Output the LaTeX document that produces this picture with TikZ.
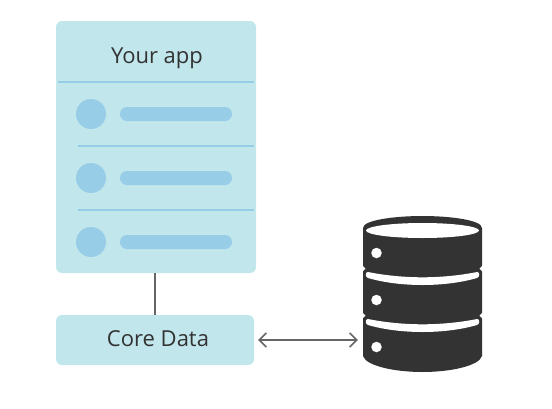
\documentclass[tikz,border=0pt]{standalone}
\usepackage{fontspec}
\setmainfont{Open Sans}
\usetikzlibrary{arrows.meta}
\definecolor{panel}{HTML}{C1E6EC}
\definecolor{rowblue}{HTML}{98CDE8}
\definecolor{disk}{HTML}{333333}
\definecolor{wire}{HTML}{666666}
\tikzset{
	panelbox/.style={fill=panel,rounded corners=6pt,inner sep=0pt},
	rowline/.style={draw=rowblue,line width=1.5pt},
	rowdot/.style={circle,fill=rowblue,inner sep=0pt,minimum size=30pt},
	rowbar/.style={fill=rowblue,rounded corners=7pt,inner sep=0pt,minimum width=112pt,minimum height=14pt},
	label/.style={text=disk,anchor=base,font=\fontsize{22}{26}\selectfont},
	wireline/.style={draw=wire,line width=1.5pt},
	diskpart/.style={fill=disk,draw=none},
}
\begin{document}
\begin{tikzpicture}[x=1pt,y=-1pt]
	\useasboundingbox (0,0) rectangle (552,408);
	% the app panel and its rows
	\node[panelbox,minimum width=200pt,minimum height=252pt] (app) at (156,147) {};
	\node[label] (title) at (157,63) {Your app};
	\draw[rowline] (58,82)--(254,82);
	\draw[rowline] (78,146)--(254,146);
	\draw[rowline] (78,210)--(254,210);
	\foreach \i/\y in {1/114,2/178,3/242}{
		\node[rowdot] (dot\i) at (91,\y) {};
		\node[rowbar] (bar\i) at (176,\y) {};
	}
	% core data
	\node[panelbox,minimum width=198pt,minimum height=50pt] (core) at (155,340) {};
	\node[label] (corelabel) at (158,346) {Core Data};
	\draw[wireline] (app.south -| 155,0)--(core.north -| 155,0);
	% the database
	\node[inner sep=0pt,minimum width=119pt,minimum height=156pt] (database) at (422.5,294) {};
	\path[diskpart] (363,228) .. controls (363,220) and (395,216) .. (422.5,216)
		.. controls (450,216) and (482,220) .. (482,228)
		-- (482,356) .. controls (479,366) and (450,372) .. (422.5,372)
		.. controls (395,372) and (366,366) .. (363,356) -- cycle;
	\path[fill=white] (422.5,230.5) ellipse (56.5 and 7.5);
	\foreach \o in {0,47}{
		\begin{scope}[yshift=-\o pt]
			% gap between two disks
			\path[fill=white] (368,272) .. controls (385,275.5) and (405,277.3) .. (422.5,277.3)
				.. controls (440,277.3) and (460,275.5) .. (477,272)
				.. controls (480,272) and (480,277) .. (477,278)
				.. controls (460,283) and (440,285) .. (422.5,285)
				.. controls (405,285) and (385,283) .. (368,278)
				.. controls (365,277) and (365,272) .. (368,272) -- cycle;
			\path[fill=white] (362,265) -- (365.5,268.5) -- (362,272) -- cycle;
			\path[fill=white] (483,265) -- (479.5,268.5) -- (483,272) -- cycle;
		\end{scope}
	}
	\foreach \i/\y in {1/253,2/300,3/347}{
		\node[circle,fill=white,inner sep=0pt,minimum size=10.5pt] (led\i) at (376.5,\y) {};
	}
	% the link
	\draw[wireline,{Straight Barb[length=7pt,width=14pt]}-{Straight Barb[length=7pt,width=14pt]},shorten <=4pt,shorten >=5pt] (core.east)--(core.east -| database.west);
\end{tikzpicture}
\end{document}
